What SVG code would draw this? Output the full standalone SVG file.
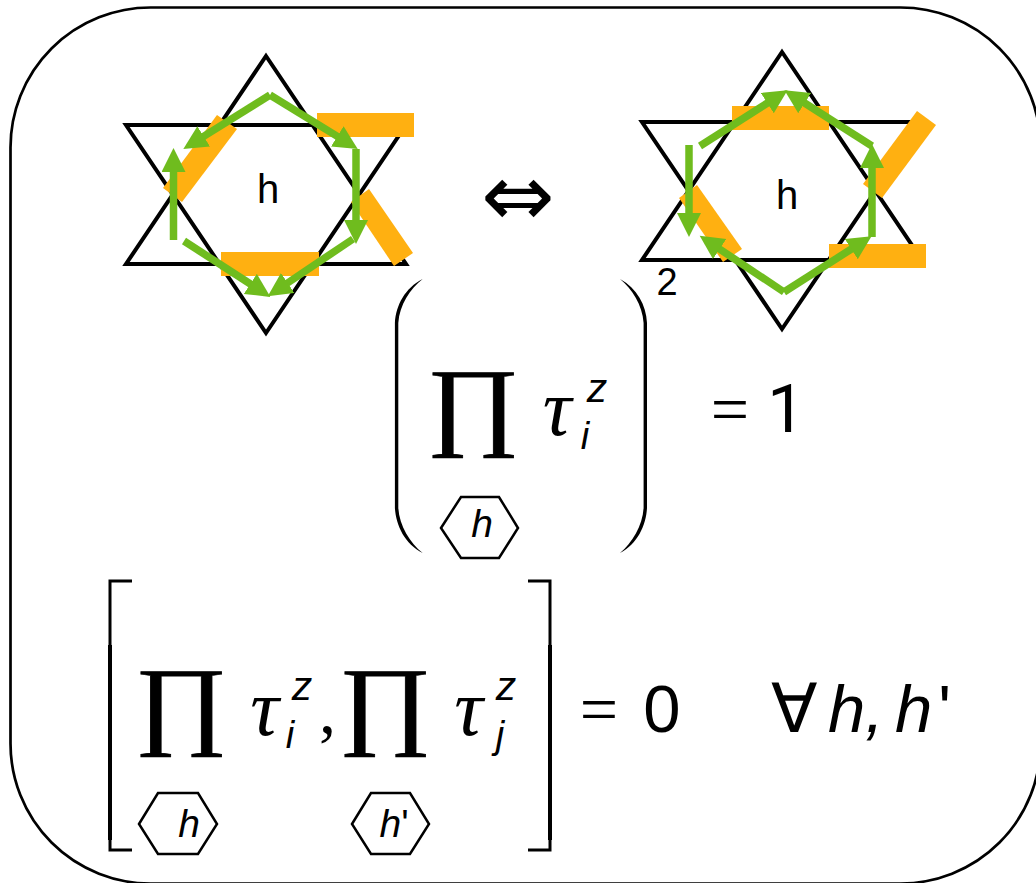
<svg xmlns="http://www.w3.org/2000/svg" width="1036" height="883" viewBox="0 0 1036 883">
<style>
.star{fill:none;stroke:#000;stroke-width:4;stroke-linejoin:miter}
.bar{fill:#ffb011}
.arr{fill:none;stroke:#6fbc1e;stroke-width:7.500;marker-end:url(#ah)}
.hex{fill:none;stroke:#000;stroke-width:2.500}
.thin{fill:none;stroke:#000;stroke-width:3}
.thick{fill:none;stroke:#000;stroke-width:4}
text{fill:#000}
.s{font-family:"Liberation Sans",Arial,sans-serif}
.si{font-family:"Liberation Sans",Arial,sans-serif;font-style:italic}
.r{font-family:Roboto,"Liberation Sans",sans-serif}
.t{font-family:"Liberation Serif","Times New Roman",serif}
.ti{font-family:"Liberation Serif","Times New Roman",serif;font-style:italic}
.pi{font-family:"Liberation Serif","Times New Roman",serif;stroke:#000;stroke-width:.8}
.d{font-family:"DejaVu Sans",sans-serif}
</style>
<defs>
<marker id="ah" markerUnits="userSpaceOnUse" markerWidth="26" markerHeight="26" refX="2" refY="12" orient="auto" viewBox="0 0 26 26">
<path d="M0,0L24,12L0,24z" fill="#6fbc1e"/>
</marker>
</defs>
<rect id="frame" x="10.500" y="7.500" width="1030" height="876" rx="140" ry="140" fill="none" stroke="#000" stroke-width="2.700"/>
<g id="star-left">
<polygon class="star" points="266,56 406,264 126,264"/>
<polygon class="star" points="266,333 406,125 126,125"/>
<rect class="bar" x="317" y="113" width="97" height="24"/>
<rect class="bar" x="221" y="252" width="98" height="24"/>
<polygon class="bar" points="217,115 237,129 182,202 163,188"/>
<polygon class="bar" points="369,189 413,253 394,266 351,202"/>
<text class="s" x="268" y="203" font-size="40" text-anchor="middle">h</text>
</g>
<g id="star-right">
<polygon class="star" points="782,52 922,260 642,260"/>
<polygon class="star" points="782,329 922,122 642,122"/>
<rect class="bar" x="732" y="106" width="97" height="24"/>
<rect class="bar" x="829" y="244" width="97" height="24"/>
<polygon class="bar" points="917,111 936,125 882,198 863,184"/>
<polygon class="bar" points="697,185 742,249 723,262 679,198"/>
<text class="s" x="787" y="209" font-size="40" text-anchor="middle">h</text>
</g>
<g id="connectors">
<path class="arr" d="M270,95L202,137.400"/>
<path class="arr" d="M270,95L339,137.400"/>
<path class="arr" d="M356,149V222"/>
<path class="arr" d="M353,239L286,284"/>
<path class="arr" d="M184,241L252,285"/>
<path class="arr" d="M173.500,240V170"/>
<path class="arr" d="M700,146L769,102"/>
<path class="arr" d="M872,146L803,102"/>
<path class="arr" d="M872,237V166"/>
<path class="arr" d="M784,292L853,248"/>
<path class="arr" d="M784,292L718,248"/>
<path class="arr" d="M689,145V215"/>
</g>
<g id="equivalence">
<text class="d" x="518" y="226" font-size="88" text-anchor="middle">⇔</text>
</g>
<g id="formula-one">
<path d="M422.700,279C405,288 396,305 394.900,323V508C396,526 405,544 422.700,553C410,543 399.500,526 398.300,508V323C399.500,305 410,289 422.700,279z"/>
<path d="M620,279C637,288 646,305 647,323V508C646,526 637,544 620,553C632,543 642.500,526 643.600,508V323C642.500,305 632,289 620,279z"/>
<text class="s" x="667" y="295" font-size="38" text-anchor="middle">2</text>
<text class="pi" transform="translate(473.500 437.400) scale(1.080 .935)" font-size="105" text-anchor="middle">∏</text>
<text class="ti" x="557" y="435" font-size="80" text-anchor="middle">τ</text>
<text class="si" x="597" y="402" font-size="41" text-anchor="middle">z</text>
<text class="si" x="585" y="449" font-size="38" text-anchor="middle">i</text>
<polygon class="hex" points="441,528 461,497 499,497 518,528 499,558 461,558"/>
<text class="si" x="482" y="537" font-size="39" text-anchor="middle">h</text>
<text class="t" x="730" y="432" font-size="68" text-anchor="middle">=</text>
<text class="r" x="786" y="432" font-size="67" text-anchor="middle">1</text>
</g>
<g id="formula-two">
<path class="thin" d="M132,581H110V850H132M528,581H550V850H528"/>
<path class="thick" d="M110,645V840M550,645V840"/>
<text class="pi" transform="translate(181.500 736.400) scale(1.080 .935)" font-size="105" text-anchor="middle">∏</text>
<text class="ti" x="264.500" y="735" font-size="80" text-anchor="middle">τ</text>
<text class="si" x="302" y="700" font-size="41" text-anchor="middle">z</text>
<text class="si" x="290" y="748" font-size="38" text-anchor="middle">i</text>
<text class="t" x="327.500" y="733" font-size="68" text-anchor="middle">,</text>
<text class="pi" transform="translate(385.500 736.400) scale(1.080 .935)" font-size="105" text-anchor="middle">∏</text>
<text class="ti" x="468.500" y="735" font-size="80" text-anchor="middle">τ</text>
<text class="si" x="506" y="700" font-size="41" text-anchor="middle">z</text>
<text class="si" x="500" y="748" font-size="38" text-anchor="middle">j</text>
<polygon class="hex" points="139,824 158,793 198,793 217,824 198,854 158,854"/>
<text class="si" x="189" y="837" font-size="39" text-anchor="middle">h</text>
<polygon class="hex" points="352,824 371,793 410,793 429,824 410,854 371,854"/>
<text class="si" x="394" y="837" font-size="39" text-anchor="middle">h<tspan font-style="normal">'</tspan></text>
<text class="t" x="599" y="732" font-size="68" text-anchor="middle">=</text>
<text class="s" x="662" y="732" font-size="67" text-anchor="middle">0</text>
<text class="t" x="794" y="732" font-size="68" text-anchor="middle">∀</text>
<text class="si" x="828" y="732" font-size="67">h,</text>
<text class="si" x="895" y="732" font-size="67">h<tspan font-style="normal" dx="6">'</tspan></text>
</g>
</svg>
